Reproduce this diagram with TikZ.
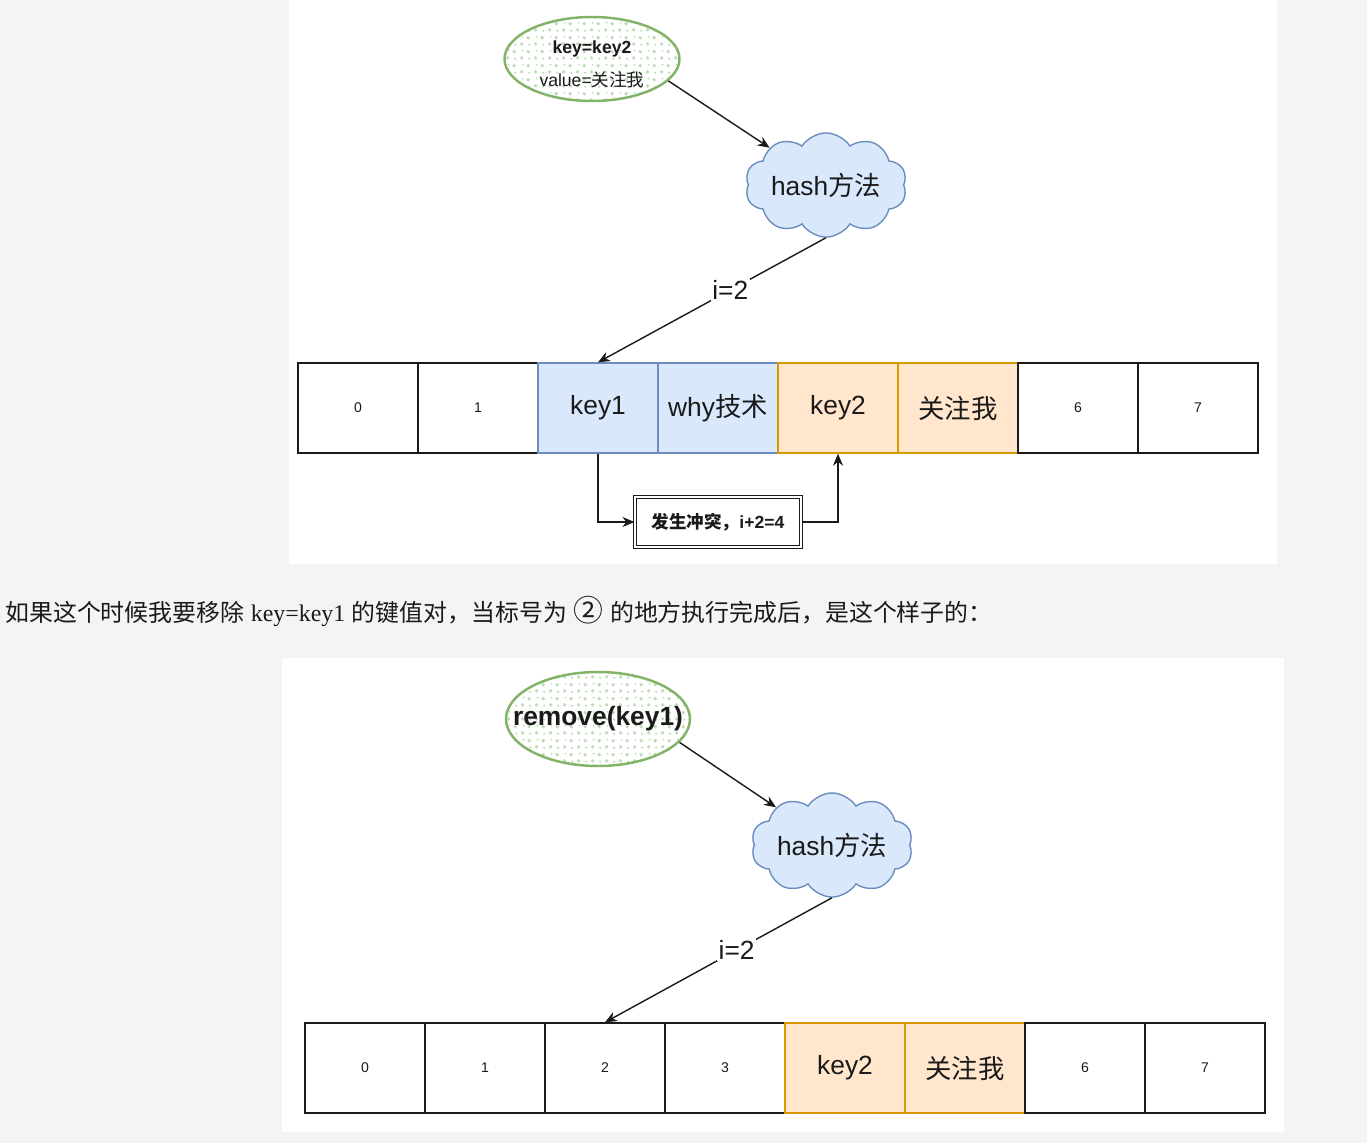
\documentclass[tikz,border=0pt]{standalone}
\usepackage{fontspec}
\setmainfont{Liberation Sans}
\newfontfamily\cjk{Noto Sans CJK SC}
\newfontfamily\serifroman{Liberation Serif}
\usetikzlibrary{arrows.meta,positioning,shapes.symbols,shapes.geometric,patterns.meta}
\definecolor{Page}{HTML}{F4F4F4}
\definecolor{Ink}{HTML}{1A1A1A}
\definecolor{BlueFill}{HTML}{DAE8FC}
\definecolor{BlueLine}{HTML}{6C8EBF}
\definecolor{OrangeFill}{HTML}{FFE6CC}
\definecolor{OrangeLine}{HTML}{D79B00}
\definecolor{GreenLine}{HTML}{82B366}
\definecolor{GreenDot}{HTML}{BEDDB8}
\tikzdeclarepattern{
  name=speckle,
  type=uncolored,
  bottom left={(0pt,0pt)},
  top right={(8pt,8pt)},
  tile size={(8pt,8pt)},
  code={
    \fill (1.6pt,1.9pt) circle (1.1pt);
    \fill (5.6pt,5.6pt) circle (1.2pt);
    \fill (6.2pt,1.4pt) circle (.7pt);
    \fill (2.2pt,6.2pt) circle (.6pt);
  }
}
\tikzset{
  cell/.style={draw=Ink,fill=white,line width=.8pt,minimum width=2.4cm,minimum height=1.8cm,inner sep=0pt,text=Ink,font=\fontsize{8}{10}\selectfont},
  bluecell/.style={cell,draw=BlueLine,fill=BlueFill,font=\fontsize{15}{18}\selectfont},
  orangecell/.style={cell,draw=OrangeLine,fill=OrangeFill,font=\fontsize{15}{18}\selectfont},
  keyblob/.style={ellipse,draw=GreenLine,line width=1.4pt,preaction={fill=white},pattern=speckle,pattern color=GreenDot,align=center,inner sep=0pt,text=Ink},
  hashcloud/.style={cloud,cloud puffs=10,cloud puff arc=115,aspect=1.9,draw=BlueLine,fill=BlueFill,line width=.8pt,minimum width=3.2cm,minimum height=1.75cm,inner sep=0pt,text=Ink,font=\fontsize{15}{18}\selectfont},
  clashbox/.style={draw=Ink,double,double distance=1.4pt,line width=.6pt,fill=white,minimum width=3.32cm,minimum height=1.0cm,inner sep=0pt,text=Ink,font=\bfseries\fontsize{10}{12}\selectfont},
  hop/.style={fill=white,inner sep=1pt,text=Ink,font=\fontsize{15}{18}\selectfont},
  flow/.style={-{Stealth[length=2.4mm,width=2mm]},draw=Ink,line width=.8pt}
}

\begin{document}
\begin{tikzpicture}[x=0.02cm,y=-0.02cm]
  \useasboundingbox (0,0) rectangle (1367,1143);
  % page and the two panels
  \fill[Page] (0,0) rectangle (1367,1143);
  \fill[white] (289,0) rectangle (1277,564);
  \fill[white] (282,658) rectangle (1284,1132);

  % upper panel
  \node[keyblob,minimum width=3.5cm,minimum height=1.68cm,inner ysep=-2pt] (keyA) at (592,59)
    {{\bfseries\fontsize{10}{12}\selectfont\rule{0pt}{13pt}key=key2}\\[7pt]{\fontsize{10}{12}\selectfont value={\cjk 关注我}}};
  \node[hashcloud] (hashA) at (826,185) {hash{\cjk 方法}};
  \foreach \i/\t/\s in {0/0/cell,1/1/cell,2/key1/bluecell,3/{why{\cjk 技术}}/bluecell,4/key2/orangecell,5/{{\cjk 关注我}}/orangecell,6/6/cell,7/7/cell}
    \node[\s] (cellA\i) at (358+120*\i,408) {\t};
  \node[clashbox] (clash) at (718,522) {{\cjk 发生冲突，}i+2=4};
  \draw[flow] (keyA.-16) -- (hashA);
  \draw[flow] (hashA.south) -- node[hop,pos=.42] {i=2} (cellA2.north);
  \draw[flow] (cellA2.south) |- (clash.west);
  \draw[flow] (clash.east) -| (cellA4.south);

  % text between the panels
  \node[anchor=west,inner sep=0pt,text=Ink,font=\fontsize{13.6}{16}\selectfont] (note) at (5,611)
    {{\cjk 如果这个时候我要移除} {\serifroman key=key1} {\cjk 的键值对，当标号为} {\cjk\fontsize{17}{18}\selectfont ②} {\cjk 的地方执行完成后，是这个样子的：}};

  % lower panel
  \node[keyblob,minimum width=3.68cm,minimum height=1.88cm,inner xsep=-.5cm,font=\bfseries\fontsize{15}{18}\selectfont] (removeB) at (598,719) {remove(key1)};
  \node[hashcloud] (hashB) at (832,845) {hash{\cjk 方法}};
  \foreach \i/\t/\s in {0/0/cell,1/1/cell,2/2/cell,3/3/cell,4/key2/orangecell,5/{{\cjk 关注我}}/orangecell,6/6/cell,7/7/cell}
    \node[\s] (cellB\i) at (365+120*\i,1068) {\t};
  \draw[flow] (removeB.-16) -- (hashB);
  \draw[flow] (hashB.south) -- node[hop,pos=.42] {i=2} (cellB2.north);
\end{tikzpicture}
\end{document}
